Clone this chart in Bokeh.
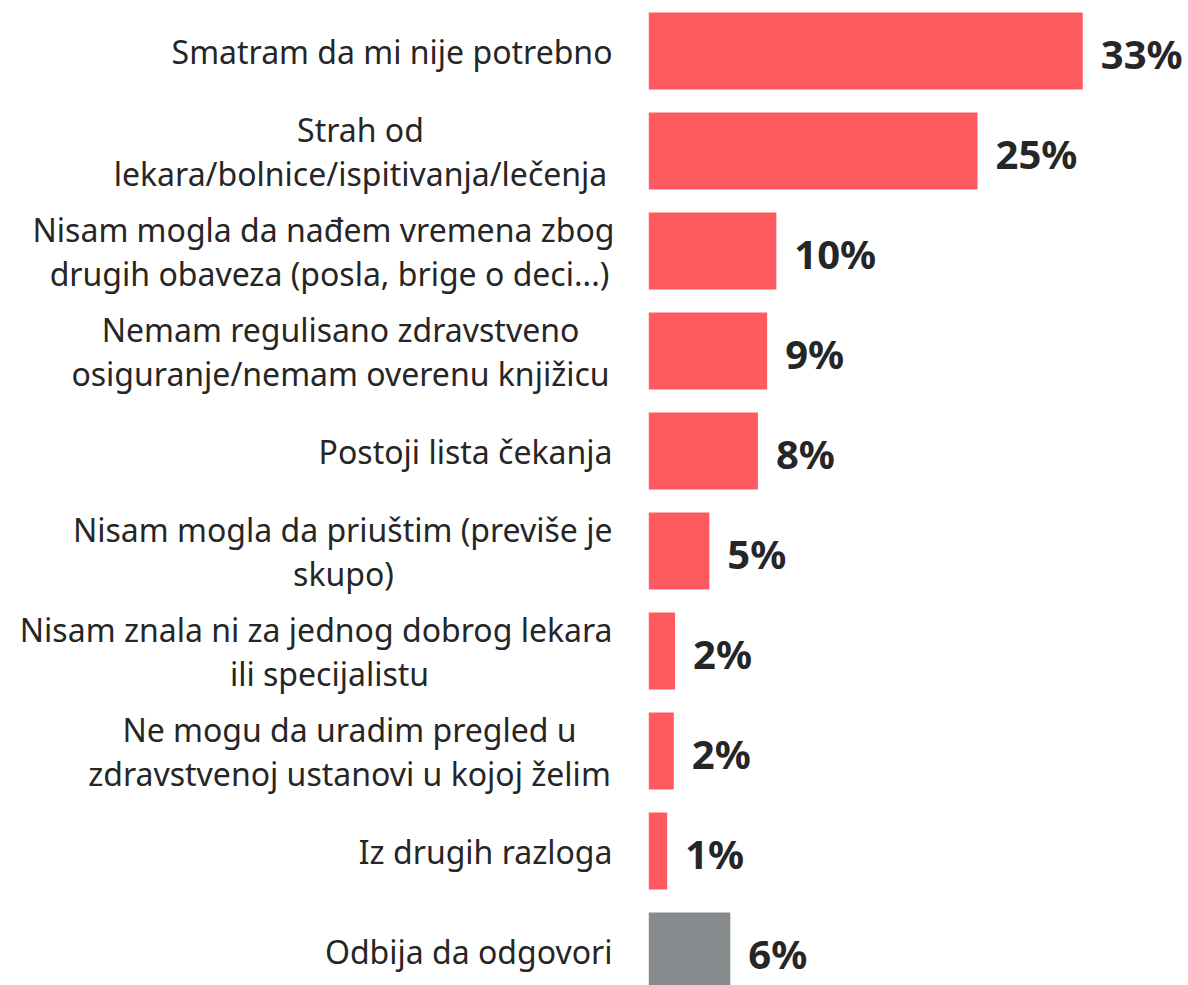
from bokeh.plotting import figure
from bokeh.models import Range1d, ColumnDataSource
from bokeh.core.properties import value
from bokeh.embed import file_html
from bokeh.resources import INLINE

# ---- data ----
categories = [
    "Smatram da mi nije potrebno",
    "Strah od\nlekara/bolnice/ispitivanja/lečenja",
    "Nisam mogla da nađem vremena zbog\ndrugih obaveza (posla, brige o deci...)",
    "Nemam regulisano zdravstveno\nosiguranje/nemam overenu knjižicu",
    "Postoji lista čekanja",
    "Nisam mogla da priuštim (previše je\nskupo)",
    "Nisam znala ni za jednog dobrog lekara\nili specijalistu",
    "Ne mogu da uradim pregled u\nzdravstvenoj ustanovi u kojoj želim",
    "Iz drugih razloga",
    "Odbija da odgovori",
]
values = [33.0, 25.0, 9.7, 9.0, 8.3, 4.6, 2.0, 1.9, 1.4, 6.2]
value_labels = ["33%", "25%", "10%", "9%", "8%", "5%", "2%", "2%", "1%", "6%"]
groups = ["reason"] * 9 + ["refused"]

# ---- styles ----
colors = {"reason": "#FF5A5F", "refused": "#888B8D"}
FONT = "Noto Sans"
W, H = 1188, 985
PX_PER_UNIT = 13.15
BAR_LEFT_PX = 648.3
ROW_PX = 100.0
ROW0_PX = 50.5
LINE_GAP = 44
RIGHT_EDGE = 612 - BAR_LEFT_PX  # px offset of right-aligned label edge from bar start
# per-line horizontal centers (image px) for multi-line labels; None = right-aligned
line_centers = [
    [None],
    [360, 360],
    [323, 329],
    [340, 340],
    [None],
    [None, 343],
    [None, 329],
    [349, 349],
    [None],
    [None],
]

p = figure(width=W, height=H, output_backend="svg", toolbar_location=None,
           x_range=Range1d(-BAR_LEFT_PX / PX_PER_UNIT, (W - BAR_LEFT_PX) / PX_PER_UNIT),
           y_range=Range1d(-ROW0_PX / ROW_PX + H / ROW_PX, -ROW0_PX / ROW_PX),
           min_border=0, outline_line_color=None, background_fill_color="white",
           border_fill_color="white")
p.axis.visible = False
p.grid.visible = False

idx = list(range(len(categories)))
bars = ColumnDataSource(dict(y=idx, right=values, color=[colors[g] for g in groups],
                             lab=value_labels))
p.hbar(y="y", left=0, right="right", height=0.77, fill_color="color",
       line_color=None, source=bars)

p.text(x="right", y="y", text="lab", source=bars, x_offset=18, y_offset=2,
       text_align="left", text_baseline="middle", text_font=value(FONT),
       text_font_style="bold", text_font_size="40px", text_color="#262626")

r_src = dict(y=[], t=[], yo=[], xo=[])
c_src = dict(y=[], t=[], yo=[], xo=[])
for i, cat in enumerate(categories):
    lines = cat.split("\n")
    n = len(lines)
    for j, line in enumerate(lines):
        yo = (j - (n - 1) / 2) * LINE_GAP
        c = line_centers[i][j]
        d = r_src if c is None else c_src
        d["y"].append(i)
        d["t"].append(line)
        d["yo"].append(yo)
        d["xo"].append(RIGHT_EDGE if c is None else c - BAR_LEFT_PX)

for d, align in ((r_src, "right"), (c_src, "center")):
    src = ColumnDataSource(dict(x=[0] * len(d["y"]), **d))
    p.text(x="x", y="y", text="t", x_offset="xo", y_offset="yo", source=src,
           text_align=align, text_baseline="middle", text_font=value(FONT),
           text_font_size="32px", text_color="#262626")

open("out.html", "w").write(file_html(p, INLINE))
